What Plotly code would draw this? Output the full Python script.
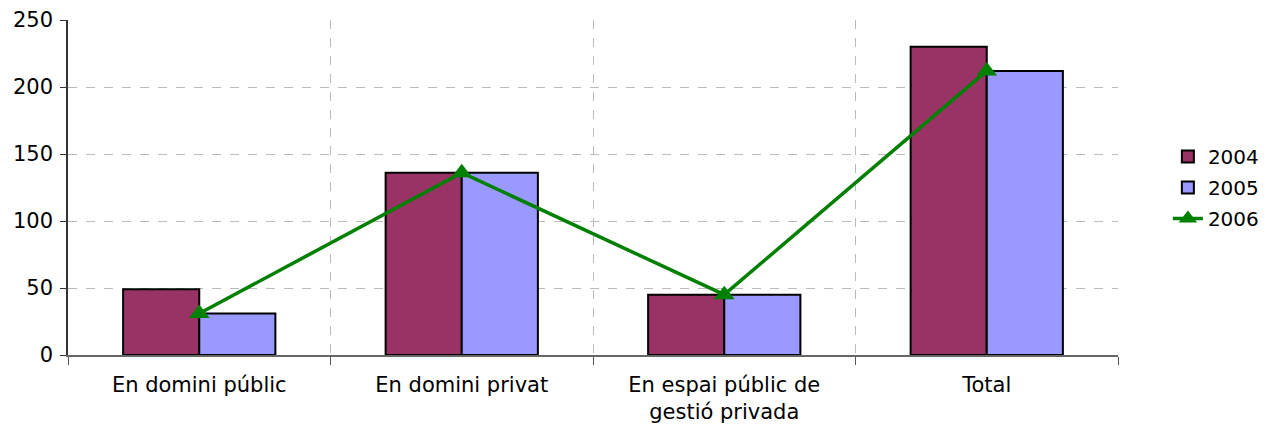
import plotly.graph_objects as go

categories = ["En domini públic", "En domini privat", "En espai públic de<br>gestió privada", "Total"]
v2004 = [49, 136, 45, 230]
v2005 = [31, 136, 45, 212]
v2006 = [31, 136, 45, 212]
yticks = [0, 50, 100, 150, 200, 250]

FONT = "DejaVu Sans"
fig = go.Figure()
fig.add_trace(go.Bar(x=categories, y=v2004, name="2004", legendgroup="a",
                     marker=dict(color="#993366", line=dict(color="black", width=2))))
fig.add_trace(go.Bar(x=categories, y=v2005, name="2005", legendgroup="b",
                     marker=dict(color="#9999FF", line=dict(color="black", width=2))))
fig.add_trace(go.Scatter(x=categories, y=v2006, name="2006", mode="lines+markers",
                         legendgroup="c",
                         line=dict(color="#008000", width=3.5),
                         marker=dict(symbol="triangle-up", size=18, color="#008000")))

fig.update_layout(
    width=1258, height=419,
    margin=dict(l=60, r=148, t=12, b=72),
    paper_bgcolor="white", plot_bgcolor="white",
    font=dict(family=FONT, size=21, color="black"),
    barmode="group", bargap=0.42, bargroupgap=0,
    showlegend=True,
    legend=dict(xref="container", x=0.922, xanchor="left",
                yref="paper", y=0.5, yanchor="middle",
                font=dict(family=FONT, size=20), traceorder="grouped",
                tracegroupgap=2, itemwidth=30, borderwidth=0),
)
fig.update_xaxes(type="category", tickson="boundaries", ticks="outside", ticklen=8,
                 tickcolor="#555", showgrid=True, gridcolor="#bbbbbb", griddash="dash",
                 gridwidth=1, showline=True, linecolor="#666", linewidth=1.5,
                 tickfont=dict(family=FONT, size=21), ticklabelstandoff=10,
                 automargin=False)
fig.update_yaxes(range=[0, 250], tickvals=yticks, ticks="outside", ticklen=6,
                 tickcolor="#333", showgrid=True, gridcolor="#bbbbbb", griddash="dash",
                 showline=True, linecolor="#333", linewidth=1.5, zeroline=False,
                 tickfont=dict(family=FONT, size=21), ticklabelstandoff=3,
                 automargin=False)

fig.write_html("out.html")
